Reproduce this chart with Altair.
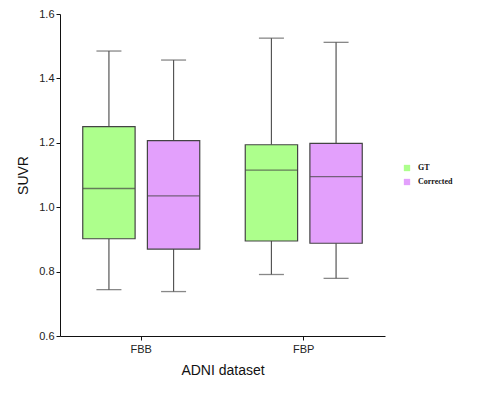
import altair as alt
import pandas as pd

datasets = ["FBB", "FBB", "FBP", "FBP"]
groups = ["GT", "Corrected", "GT", "Corrected"]
mins = [0.744, 0.738, 0.791, 0.779]
q1s = [0.902, 0.870, 0.895, 0.888]
medians = [1.058, 1.035, 1.115, 1.095]
q3s = [1.250, 1.207, 1.194, 1.198]
maxs = [1.485, 1.457, 1.525, 1.512]

df = pd.DataFrame({
    "dataset": datasets, "group": groups, "lo": mins, "q1": q1s,
    "med": medians, "q3": q3s, "hi": maxs,
})

x = alt.X("dataset:N", title="ADNI dataset",
          scale=alt.Scale(paddingInner=0.28, paddingOuter=0.14),
          axis=alt.Axis(labelAngle=0, labelFont="Liberation Sans", labelFontSize=11,
                        labelColor="#222", titleFont="Liberation Sans", titleFontSize=14,
                        titleFontWeight="normal", titleColor="#111", domainColor="#111",
                        tickColor="#111", tickSize=4, labelPadding=3, titlePadding=9))
xo = alt.XOffset("group:N", sort=["GT", "Corrected"],
                 scale=alt.Scale(paddingInner=0.19, paddingOuter=0))
yscale = alt.Scale(domain=[0.6, 1.6], nice=False, zero=False)
yaxis = alt.Axis(values=[0.6, 0.8, 1.0, 1.2, 1.4, 1.6], format=".1f", grid=False,
                 labelFont="Liberation Sans", labelFontSize=11, labelColor="#222",
                 titleFont="Liberation Sans", titleFontSize=14, titleFontWeight="normal",
                 titleColor="#111", domainColor="#111", tickColor="#111", tickSize=4,
                 labelPadding=2, titlePadding=8)
color = alt.Color("group:N", sort=["GT", "Corrected"],
                  scale=alt.Scale(domain=["GT", "Corrected"], range=["#adff8c", "#e3a0fc"]),
                  legend=alt.Legend(title=None, orient="none", legendX=343, legendY=150,
                                    symbolType="square", symbolSize=40, symbolStrokeWidth=0,
                                    labelFont="Liberation Serif", labelFontSize=8,
                                    labelFontWeight="bold", labelColor="#111",
                                    rowPadding=6, labelOffset=7))

base = alt.Chart(df)

whisk_lo = base.mark_rule(color="#555", strokeWidth=1.2).encode(
    x=x, xOffset=xo, y=alt.Y("lo:Q", scale=yscale, axis=yaxis, title="SUVR"), y2="q1:Q")
whisk_hi = base.mark_rule(color="#555", strokeWidth=1.2).encode(
    x=x, xOffset=xo, y=alt.Y("q3:Q"), y2="hi:Q")
cap_lo = base.mark_tick(color="#555", size=25, thickness=1.3).encode(
    x=x, xOffset=xo, y="lo:Q")
cap_hi = base.mark_tick(color="#555", size=25, thickness=1.3).encode(
    x=x, xOffset=xo, y="hi:Q")
box = base.mark_bar(stroke="#444", strokeWidth=1.2).encode(
    x=x, xOffset=xo, y="q1:Q", y2="q3:Q", color=color)
med = base.mark_tick(color="#444", size=52, thickness=1.3).encode(
    x=x, xOffset=xo, y="med:Q")

chart = alt.layer(whisk_lo, whisk_hi, cap_lo, cap_hi, box, med).properties(
    width=325, height=322,
    autosize=alt.AutoSizeParams(type="none"),
    padding={"left": 52, "top": 6, "right": 105, "bottom": 49},
).configure_view(stroke=None)

chart.save("out.html", embed_options={"renderer": "svg", "actions": False})
